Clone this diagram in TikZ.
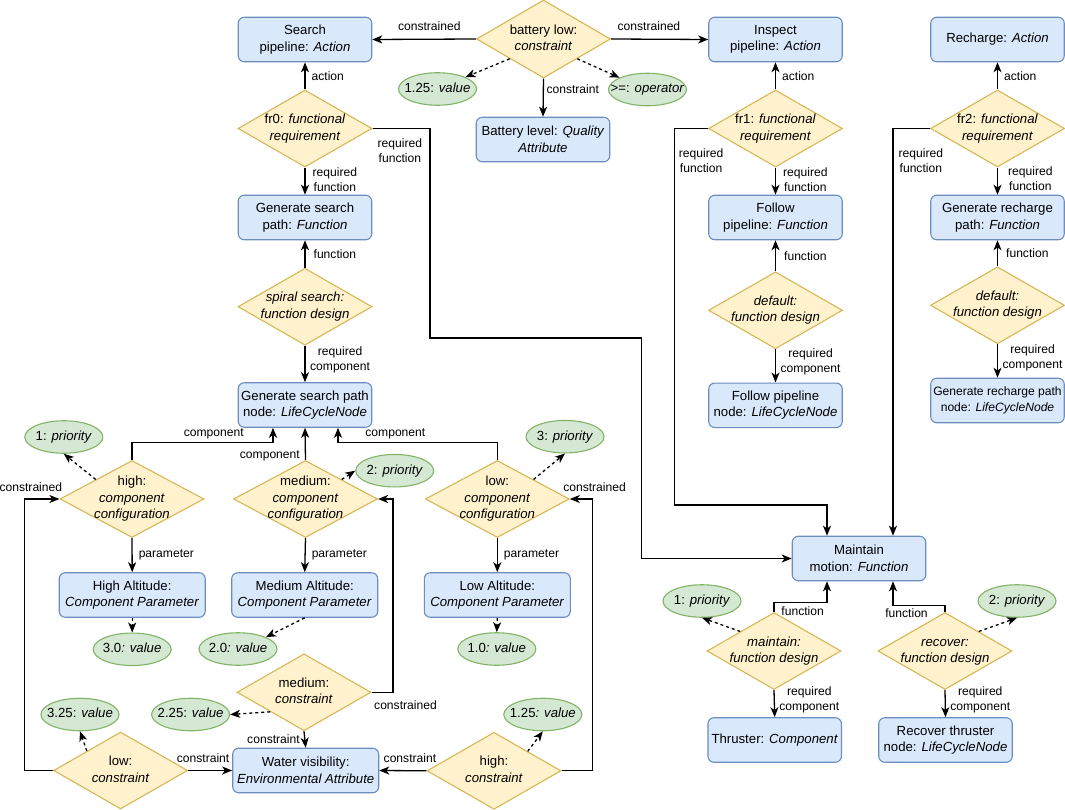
\documentclass[tikz,border=0pt]{standalone}
\usepackage{fontspec}
\setmainfont{Liberation Sans}
\usetikzlibrary{shapes.geometric,arrows.meta}
\definecolor{boxfill}{HTML}{DAE8FC}
\definecolor{boxline}{HTML}{6C8EBF}
\definecolor{diafill}{HTML}{FFF2CC}
\definecolor{dialine}{HTML}{D6B656}
\definecolor{valfill}{HTML}{D5E8D4}
\definecolor{valline}{HTML}{82B366}
\newcommand{\ndfont}{\fontsize{13.2}{16.5}\selectfont}
\newcommand{\smfont}{\fontsize{12.1}{16.5}\selectfont}
\newcommand{\lblfont}{\fontsize{12.1}{15}\selectfont}
\newcommand{\dtext}[1]{\makebox[0pt]{\raisebox{\dimexpr0.5\depth-0.5\height\relax}[0pt][0pt]{\begin{tabular}[b]{@{}c@{}}#1\end{tabular}}}}

\begin{document}
\begin{tikzpicture}[x=1pt, y=-1pt,
  box/.style={rectangle, rounded corners=6pt, draw=boxline, fill=boxfill, line width=1.1pt, minimum width=133.5pt, minimum height=44.5pt, inner sep=2pt, align=center, font=\ndfont},
  boxw/.style={box, minimum width=146pt},
  dia/.style={diamond, draw=dialine, fill=diafill, line width=1.1pt, minimum width=134pt, minimum height=77pt, inner sep=0pt, font=\ndfont},
  diaw/.style={dia, minimum width=144pt},
  val/.style={ellipse, draw=valline, fill=valfill, line width=1.1pt, minimum width=78pt, minimum height=32.5pt, inner sep=0pt, font=\ndfont},
  lbl/.style={font=\lblfont, inner sep=2pt, align=center},
  arr/.style={line width=1.3pt, -{Stealth[length=10pt,width=8pt,inset=2.8pt]}},
  dep/.style={arr, dash pattern=on 3pt off 3pt}]
\useasboundingbox (0,0) rectangle (1065,810);

\node[box] (search) at (305,39.5) {Search\\pipeline: \textit{Action}};
\node[dia] (fr0) at (305,128.5) {\dtext{fr0: \textit{functional}\\\textit{requirement}}};
\node[box] (gsp) at (305,217.5) {Generate search\\path: \textit{Function}};
\node[dia] (spiral) at (305,306.7) {\dtext{\textit{spiral search:}\\\textit{function design}}};
\node[box] (gspn) at (305,405) {Generate search path\\node: \textit{LifeCycleNode}};

\node[dia, minimum height=78pt] (bat) at (543.5,39) {\dtext{battery low:\\\textit{constraint}}};
\node[val] (vbat) at (437.5,89) {\dtext{1.25: \textit{value}}};
\node[val] (opr) at (647.5,89.5) {\dtext{>=: \textit{operator}}};
\node[box] (qa) at (543,139.5) {Battery level: \textit{Quality}\\\textit{Attribute}};

\node[box] (inspect) at (775.5,39.5) {Inspect\\pipeline: \textit{Action}};
\node[dia] (fr1) at (775.5,128.5) {\dtext{fr1: \textit{functional}\\\textit{requirement}}};
\node[box] (follow) at (775.5,217.5) {Follow\\pipeline: \textit{Function}};
\node[dia] (dflt1) at (775.5,310.3) {\dtext{\textit{default:}\\\textit{function design}}};
\node[box] (fpn) at (775.5,405.3) {Follow pipeline\\node: \textit{LifeCycleNode}};

\node[box] (recharge) at (997.5,39.5) {Recharge: \textit{Action}};
\node[dia] (fr2) at (997.5,128.5) {\dtext{fr2: \textit{functional}\\\textit{requirement}}};
\node[box] (grp) at (997.5,217.5) {Generate recharge\\path: \textit{Function}};
\node[dia] (dflt2) at (997.5,305.3) {\dtext{\textit{default:}\\\textit{function design}}};
\node[box, font=\smfont] (grpn) at (997.5,400.5) {Generate recharge path\\node: \textit{LifeCycleNode}};

\node[box] (motion) at (859,558.5) {Maintain\\motion: \textit{Function}};
\node[val] (pmt) at (702,601) {\dtext{1: \textit{priority}}};
\node[dia] (mtn) at (774,651) {\dtext{\textit{maintain:}\\\textit{function design}}};
\node[box] (thr) at (774.7,740) {Thruster: \textit{Component}};
\node[dia] (rcv) at (945,651) {\dtext{\textit{recover:}\\\textit{function design}}};
\node[val] (prc) at (1017,601) {\dtext{2: \textit{priority}}};
\node[box] (rtn) at (945.5,740) {Recover thruster\\node: \textit{LifeCycleNode}};

\node[diaw] (hcc) at (132,499) {\dtext{high:\\\textit{component}\\\textit{configuration}}};
\node[diaw] (mcc) at (305.5,499) {\dtext{medium:\\\textit{component}\\\textit{configuration}}};
\node[diaw] (lcc) at (497.3,499) {\dtext{low:\\\textit{component}\\\textit{configuration}}};
\node[val] (ph) at (63.8,437) {\dtext{1: \textit{priority}}};
\node[val] (pm) at (394.7,470.7) {\dtext{2: \textit{priority}}};
\node[val] (pl) at (565,436.7) {\dtext{3: \textit{priority}}};
\node[boxw] (halt) at (132.2,595) {High Altitude:\\\textit{Component Parameter}};
\node[boxw] (malt) at (304.7,595) {Medium Altitude:\\\textit{Component Parameter}};
\node[boxw] (lalt) at (497.3,595) {Low Altitude:\\\textit{Component Parameter}};
\node[val] (vh) at (132.2,649.3) {\dtext{3.0\textit{: value}}};
\node[val] (vm) at (238,649) {\dtext{2.0\textit{: value}}};
\node[val] (vl) at (496.8,649) {\dtext{1.0\textit{: value}}};

\node[dia] (mcon) at (304,692.3) {\dtext{medium:\\\textit{constraint}}};
\node[val] (vmc) at (190.6,714.5) {\dtext{2.25: \textit{value}}};
\node[boxw] (water) at (305.7,770.5) {Water visibility:\\\textit{Environmental Attribute}};
\node[dia] (lcon) at (120.6,770.5) {\dtext{low:\\\textit{constraint}}};
\node[val] (vlc) at (80,714.5) {\dtext{3.25: \textit{value}}};
\node[dia] (hcon) at (494,770.8) {\dtext{high:\\\textit{constraint}}};
\node[val] (vhc) at (542.8,714.5) {\dtext{1.25\textit{: value}}};

\draw[arr] (bat.west) -- node[lbl, above=5.5pt, pos=0.45] {constrained} (search.east);
\draw[arr] (bat.east) -- node[lbl, above=5.5pt, pos=0.39] {constrained} (inspect.west);
\draw[arr] (bat.south) -- node[lbl, right=0.5pt, pos=0.28] {constraint} (qa.north);
\draw[dep] (bat.south west) -- (vbat.north east);
\draw[dep] (bat.south east) -- (opr.north west);

\draw[arr] (fr0.north) -- node[lbl, right=4pt] {action} (search.south);
\draw[arr] (fr0.south) -- node[lbl, right=5pt, pos=0.45] {required\\function} (gsp.north);
\draw[arr] (spiral.north) -- node[lbl, right=6pt] {function} (gsp.south);
\draw[arr] (spiral.south) -- node[lbl, right=2.5pt, pos=0.4] {required\\component} (gspn.north);
\draw[arr] (fr0.east) -| node[lbl, anchor=north west, pos=0, xshift=2.5pt, yshift=-8pt] {required\\function} (430,338) -- (641.7,338) |- (motion.west);

\draw[arr] (fr1.north) -- node[lbl, right=4pt] {action} (inspect.south);
\draw[arr] (fr1.south) -- node[lbl, right=5pt, pos=0.45] {required\\function} (follow.north);
\draw[arr] (dflt1.north) -- node[lbl, right=6pt] {function} (follow.south);
\draw[arr] (dflt1.south) -- node[lbl, right=2.5pt, pos=0.37] {required\\component} (fpn.north);
\draw[arr] (fr1.west) -| node[lbl, right=2pt, pos=0.543] {required\\function} (674.3,505) -| ([xshift=-32pt]motion.north);

\draw[arr] (fr2.north) -- node[lbl, right=4pt] {action} (recharge.south);
\draw[arr] (fr2.south) -- node[lbl, right=8pt, pos=0.4] {required\\function} (grp.north);
\draw[arr] (dflt2.north) -- node[lbl, right=6pt] {function} (grp.south);
\draw[arr] (dflt2.south) -- node[lbl, right=2.5pt, pos=0.4] {required\\component} (grpn.north);
\draw[arr] (fr2.west) -| node[lbl, right=3pt, pos=0.54] {required\\function} ([xshift=34pt]motion.north);

\draw[arr] (mtn.north) -- ++(0,-9.5) -| node[lbl, below=2pt, pos=0.27] {function} ([xshift=-32pt]motion.south);
\draw[arr] (rcv.north) -- ++(0,-6.5) -| node[lbl, below=1pt, pos=0.37] {function} ([xshift=34pt]motion.south);
\draw[dep] (mtn.north west) -- (pmt.south);
\draw[dep] (rcv.north east) -- (prc.south);
\draw[arr] (mtn.south) -- node[lbl, right=2.5pt, pos=0.35] {required\\component} (thr.north);
\draw[arr] (rcv.south) -- node[lbl, right=2.5pt, pos=0.35] {required\\component} (rtn.north);

\draw[arr] (hcc.north) -- ++(0,-17.8) -| node[lbl, above, pos=0.29] {component} ([xshift=-32pt]gspn.south);
\draw[arr] (mcc.north) -- node[lbl, left=3pt, pos=0.13] {component} (gspn.south);
\draw[arr] (lcc.north) -- ++(0,-17.8) -| node[lbl, above, pos=0.32] {component} ([xshift=33pt]gspn.south);
\draw[dep] (hcc.north west) -- (ph.south);
\draw[dep] (mcc.north east) -- (pm.west);
\draw[dep] (lcc.north east) -- (pl.south);
\draw[arr] (hcc.south) -- node[lbl, right=4pt] {parameter} (halt.north);
\draw[arr] (mcc.south) -- node[lbl, right=4pt] {parameter} (malt.north);
\draw[arr] (lcc.south) -- node[lbl, right=4pt] {parameter} (lalt.north);
\draw[dep] (halt.south) -- (vh.north);
\draw[dep] (malt.south) -- (vm.north east);
\draw[dep] (lalt.south) -- (vl.north);

\draw[arr] (mcon.east) -- node[lbl, anchor=north west, pos=0, yshift=-6pt] {constrained} ++(21.5,0) |- (mcc.east);
\draw[arr] (mcon.south) -- node[lbl, left=2.5pt] {constraint} (water.north);
\draw[dep] (mcon.south west) -- (vmc.east);
\draw[arr] (lcon.east) -- node[lbl, above=5.5pt, pos=0.34] {constraint} (water.west);
\draw[arr] (hcon.west) -- node[lbl, above=5.5pt, pos=0.35] {constraint} (water.east);
\draw[arr] (lcon.west) -- ++(-28.5,0) |- node[lbl, above=5pt, pos=0.59] {constrained} (hcc.west);
\draw[arr] (hcon.east) -- ++(31,0) |- node[lbl, above=5pt, pos=0.5, xshift=2pt] {constrained} (lcc.east);
\draw[dep] (lcon.north west) -- (vlc.south);
\draw[dep] (hcon.north east) -- (vhc.south);

\end{tikzpicture}
\end{document}
